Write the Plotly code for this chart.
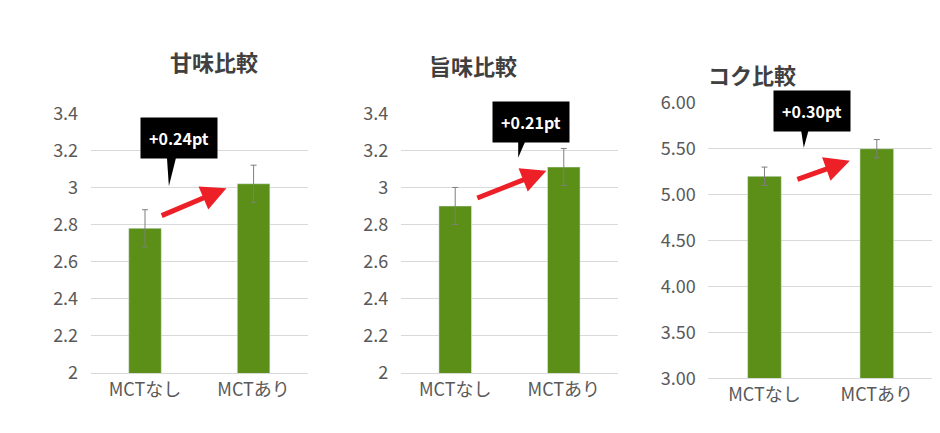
import plotly.graph_objects as go

cats = ["MCTなし", "MCTあり"]
titles = ["甘味比較", "旨味比較", "コク比較"]
sweet = [2.78, 3.02]
umami = [2.90, 3.11]
koku = [5.20, 5.50]
err = [0.1, 0.1]
labels = ["+0.24pt", "+0.21pt", "+0.30pt"]
series = [sweet, umami, koku]

font = "Noto Sans CJK JP"
green = "#5b8f17"
fig = go.Figure()
xdoms = [(0.088, 0.319), (0.418, 0.649), (0.745, 0.984)]
ydoms = [(0.157, 0.757), (0.157, 0.757), (0.145, 0.781)]
yranges = [(2, 3.4), (2, 3.4), (3, 6)]
ytv = [[2 + 0.2*i for i in range(8)], [2 + 0.2*i for i in range(8)], [3 + 0.5*i for i in range(7)]]
ytt = [[f"{v:g}" for v in ytv[0]], [f"{v:g}" for v in ytv[1]], [f"{v:.2f}" for v in ytv[2]]]
box = [(0.31, 3.265), (0.70, 3.35), (0.42, 5.91)]
tip = [(0.22, 3.007), (0.58, 3.16), (0.35, 5.51)]
arrow = [((0.14, 2.845), (0.75, 2.996)), ((0.19, 2.94), (0.84, 3.09)), ((0.28, 5.16), (0.76, 5.37))]
titley = [0.92, 0.91, 0.89]
titlex = [0.17, 0.495, 0.84]

for i in range(3):
    n = "" if i == 0 else str(i+1)
    fig.add_trace(go.Bar(x=[0, 1], y=series[i], width=0.3, marker_color=green,
                         error_y=dict(type="data", array=err, color="#7f7f7f", thickness=1, width=3),
                         xaxis="x"+n, yaxis="y"+n, showlegend=False))
    fig.layout["xaxis"+n] = dict(domain=xdoms[i], anchor="y"+n, range=[-0.5, 1.5], automargin=False,
                                 tickvals=[0, 1], ticktext=cats, showgrid=False, zeroline=False,
                                 showline=True, linecolor="#d9d9d9",
                                 tickfont=dict(size=18, color="#595959", family=font), ticks="")
    fig.layout["yaxis"+n] = dict(domain=ydoms[i], anchor="x"+n, range=yranges[i], automargin=False,
                                 tickvals=ytv[i], ticktext=ytt[i], gridcolor="#d9d9d9", zeroline=False,
                                 ticks="outside", ticklen=8, tickcolor="rgba(0,0,0,0)",
                                 tickfont=dict(size=18, color="#595959", family=font))
    xs, ys = "x"+n, "y"+n
    bx, by = box[i]; tx, ty = tip[i]
    fig.add_shape(type="path", xref=xs, yref=ys,
                  path=f"M {bx-0.12},{by} L {bx+0.02},{by} L {tx},{ty} Z",
                  fillcolor="black", line=dict(width=0))
    fig.add_annotation(x=bx, y=by, xref=xs, yref=ys, text=f"<b>{labels[i]}</b>", showarrow=False,
                       bgcolor="black", borderpad=8, font=dict(color="white", size=16, family=font))
    (x0, y0), (x1, y1) = arrow[i]
    fig.add_annotation(x=x1, y=y1, ax=x0, ay=y0, xref=xs, yref=ys, axref=xs, ayref=ys, text="",
                       showarrow=True, arrowhead=2, arrowsize=1, arrowwidth=5, arrowcolor="#ee2027")
    fig.add_annotation(x=titlex[i], y=titley[i], xref="paper", yref="paper",
                       text=f"<b>{titles[i]}</b>", showarrow=False,
                       font=dict(size=22, color="#404040", family=font))

fig.update_layout(width=940, height=433, margin=dict(l=0, r=0, t=0, b=0),
                  plot_bgcolor="white", paper_bgcolor="white")
fig.write_html("out.html")
